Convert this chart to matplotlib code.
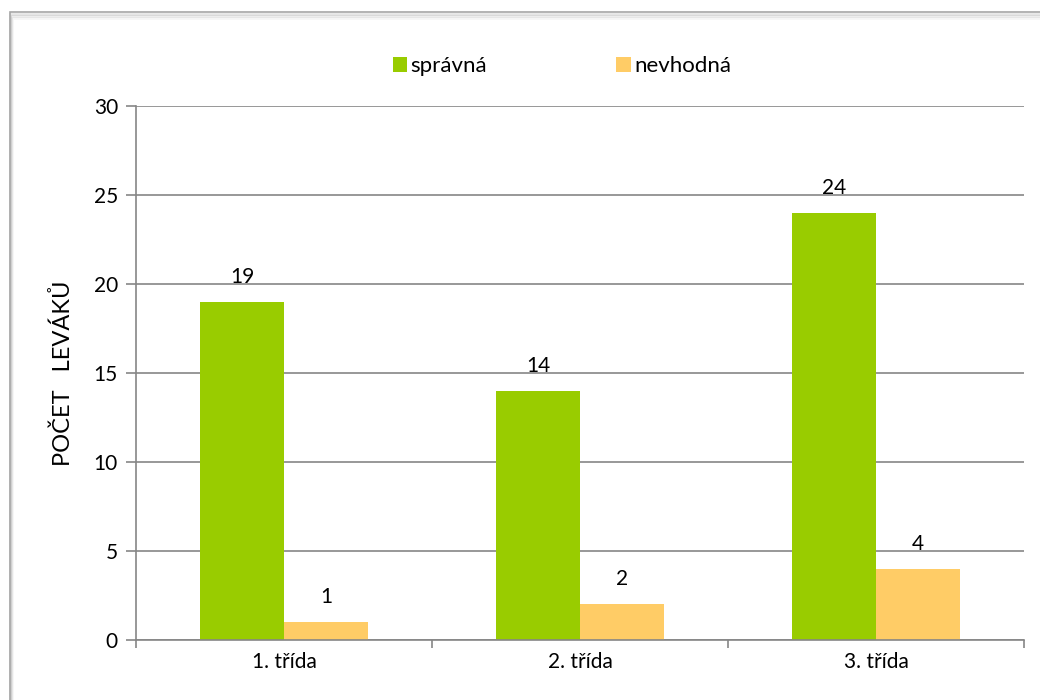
import numpy as np
import matplotlib.pyplot as plt
from matplotlib.patches import Rectangle

# data
categories = ['1. třída', '2. třída', '3. třída']
spravna = [19, 14, 24]
nevhodna = [1, 2, 4]
series_names = ['správná', 'nevhodná']

plt.rcParams['font.family'] = ['Lato', 'DejaVu Sans']

fig = plt.figure(figsize=(10.4, 7), dpi=100)
W, H = 1040, 700

# outer chart frame with light shadow
for i, a in enumerate([0.10, 0.07, 0.04]):
    fig.patches.append(Rectangle((10 / W + i / W, -0.1), 1.2, (688 - i * 2) / H + 0.1 - 2 / H,
                                 transform=fig.transFigure, fill=False,
                                 edgecolor='black', alpha=a, lw=2))
fig.patches.append(Rectangle((10 / W, -0.1), 1.2, 688 / H + 0.1,
                             transform=fig.transFigure, fill=False,
                             edgecolor='#a6a6a6', lw=1.2))

ax = fig.add_axes([136 / W, 60 / H, 888 / W, 534 / H])

x = np.arange(len(categories))
w = 0.284
c_green = '#99cc00'
c_orange = '#ffcc66'
b1 = ax.bar(x - w / 2, spravna, w, color=c_green, label=series_names[0], zorder=3)
b2 = ax.bar(x + w / 2, nevhodna, w, color=c_orange, label=series_names[1], zorder=3)

for bars, vals in ((b1, spravna), (b2, nevhodna)):
    for r, v in zip(bars, vals):
        ax.annotate(str(v), (r.get_x() + r.get_width() / 2, r.get_height()),
                    xytext=(0, 11), textcoords='offset points',
                    ha='center', va='bottom', fontsize=15)

ax.set_xlim(-0.5, len(categories) - 0.5)
ax.set_ylim(0, 30)
ax.set_yticks(np.arange(0, 31, 5))
ax.set_xticks(x)
ax.set_xticklabels(categories)
ax.set_xticks(np.arange(-0.5, len(categories), 1), minor=True)
ax.tick_params(axis='x', which='major', length=0, pad=9, labelsize=15)
ax.tick_params(axis='x', which='minor', length=6, color='#868686', width=1.2)
ax.tick_params(axis='y', length=7, color='#868686', width=1.2, labelsize=15, pad=6)
ax.yaxis.grid(True, color='#868686', lw=1.2, zorder=0)
ax.set_axisbelow(True)
for s in ['top', 'right']:
    ax.spines[s].set_visible(False)
for s in ['left', 'bottom']:
    ax.spines[s].set_color('#868686')
    ax.spines[s].set_linewidth(1.2)
ax.spines['bottom'].set_zorder(4)

ax.set_ylabel('POČET   LEVÁKŮ', fontsize=17, labelpad=14)

ax.legend(loc='center', bbox_to_anchor=(562 / W, 634 / H), bbox_transform=fig.transFigure,
          ncol=2, frameon=False, fontsize=16, handlelength=0.65, handleheight=0.65,
          handletextpad=0.15, columnspacing=5.8)

fig.savefig('out.png', dpi=100)
